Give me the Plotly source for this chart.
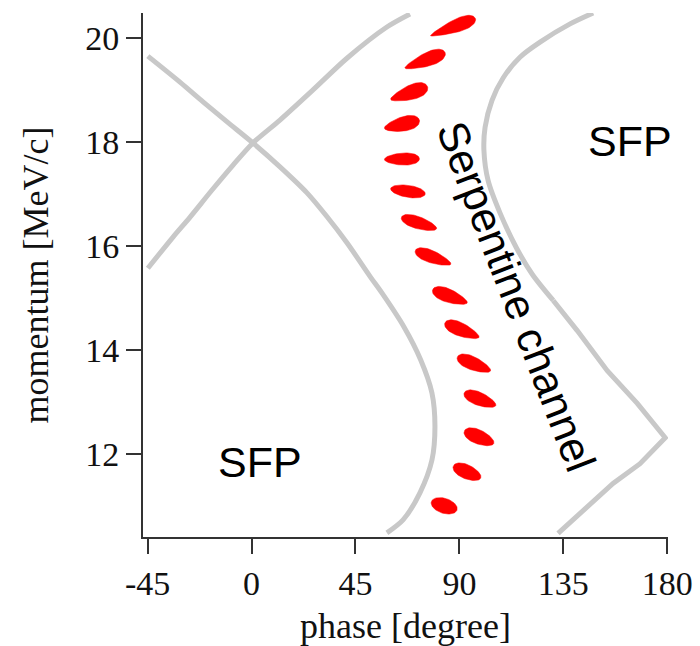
import numpy as np
import plotly.graph_objects as go

# ---- data ----
x_ticks = [-45, 0, 45, 90, 135, 180]
x_ticktext = ["-45", "0", "45", "90", "135", "180"]
y_ticks = [12, 14, 16, 18, 20]

# separatrix branch descending through the X-point and bending back
sepA_phase = [-44.9, -31.0, -21.0, -10.7, 0.6, 12.3, 24.0, 32.7, 41.3, 51.5, 56.5, 66.0,
              73.2, 78.1, 79.4, 78.1, 72.9, 65.6, 58.6]
sepA_mom = [19.66, 19.16, 18.78, 18.40, 17.99, 17.53, 17.03, 16.57, 16.07, 15.41, 15.10, 14.45,
            13.82, 13.18, 12.53, 11.89, 11.26, 10.74, 10.49]

# separatrix branch ascending through the X-point
sepB_phase = [-44.9, -34.0, -26.7, -17.2, -8.1, 0.6, 12.3, 26.6, 41.3, 58.6, 68.6]
sepB_mom = [15.58, 16.18, 16.56, 17.08, 17.56, 17.99, 18.43, 19.01, 19.62, 20.22, 20.47]

# right separatrix: upper smooth arc, then straight flanks round the corner at 180 degrees
sepC_phase = [147.9, 137.9, 124.9, 116.2, 108.9, 104.1, 101.1, 100.6, 102.4, 107.6, 114.6,
              121.6, 130.6]
sepC_mom = [20.49, 20.28, 19.93, 19.64, 19.24, 18.81, 18.29, 17.85, 17.27, 16.64, 15.98,
            15.46, 14.96]
sepD_phase = [130.6, 141.0, 154.0, 167.0, 179.1, 168.2, 156.5, 145.3, 132.7]
sepD_mom = [14.96, 14.38, 13.61, 12.98, 12.32, 11.82, 11.44, 10.98, 10.48]

# bunch centres
bunch_phase = [87.2, 75.1, 68.2, 65.1, 65.1, 67.7, 72.5, 78.6, 85.9, 91.1, 96.3, 98.9, 98.5, 93.3, 83.4]
bunch_mom = [20.22, 19.58, 18.95, 18.35, 17.68, 17.06, 16.45, 15.79, 15.04, 14.39, 13.74, 13.06,
             12.33, 11.66, 11.01]
# bunch shape: tilt (deg on screen), length and thickness (px), asymmetry
bunch_tilt = [21, 21, 19, 13, 1, -9, -18, -21, -21, -23, -23, -22, -23, -24, -18]
bunch_len = [48, 43, 39, 36, 35, 35, 37, 38, 37, 37, 36, 34, 32, 30, 27]
bunch_thick = [12, 13, 14, 14, 12, 12, 12, 12, 13, 13, 13, 13, 14, 14, 15]
bunch_skew = [0.55, 0.45, 0.4, 0.3, 0.2, 0.05, -0.2, -0.3, -0.3, -0.3, -0.25, -0.2, -0.15, -0.1, 0.0]

# ---- layout geometry ----
W, H = 700, 646
ml, mr, mt, mb = 143, 32, 13, 109
xr = [-47.0, 180.3]
yr = [10.41, 20.49]
sx = (W - ml - mr) / (xr[1] - xr[0])
sy = (H - mt - mb) / (yr[1] - yr[0])

bx, by = [], []
t = np.linspace(0, 2 * np.pi, 72)
for cx, cy, th, L, T, k in zip(bunch_phase, bunch_mom, bunch_tilt, bunch_len, bunch_thick, bunch_skew):
    a, b = L / 2, T / 2
    r = np.radians(th)
    u = a * np.cos(t)
    v = b * np.sin(t) * (1 + k * np.cos(t))
    dx = u * np.cos(r) - v * np.sin(r)
    dy = u * np.sin(r) + v * np.cos(r)
    bx += list(cx + dx / sx) + [None]
    by += list(cy + dy / sy) + [None]

grey = "#c8c8c8"
fig = go.Figure()
for xs, ys, shape in [(sepA_phase, sepA_mom, "spline"), (sepB_phase, sepB_mom, "spline"),
                      (sepC_phase, sepC_mom, "spline"), (sepD_phase, sepD_mom, "linear")]:
    fig.add_trace(go.Scatter(x=xs, y=ys, mode="lines",
                             line=dict(color=grey, width=5, shape=shape, smoothing=0.8),
                             hoverinfo="skip", showlegend=False))
fig.add_trace(go.Scatter(x=bx, y=by, mode="lines", fill="toself", fillcolor="#ff0000",
                         line=dict(color="#ff0000", width=0.5), hoverinfo="skip", showlegend=False))

serif = "Liberation Serif"
sans = "Liberation Sans"
axis_common = dict(showline=True, linecolor="#333333", linewidth=2, ticks="outside", ticklen=15,
                   tickwidth=2, tickcolor="#333333", showgrid=False, zeroline=False, automargin=False,
                   tickfont=dict(family=serif, size=34, color="#111111"))
fig.update_layout(
    width=W, height=H, margin=dict(l=ml, r=mr, t=mt, b=mb, autoexpand=False),
    paper_bgcolor="white", plot_bgcolor="white",
    xaxis=dict(range=xr, tickvals=x_ticks, ticktext=x_ticktext,
               title=dict(text="phase [degree]", font=dict(family=serif, size=36, color="#111111"),
                          standoff=16), **axis_common),
    yaxis=dict(range=yr, tickvals=y_ticks,
               title=dict(text="momentum [MeV/c]", font=dict(family=serif, size=36, color="#111111"),
                          standoff=26), **axis_common),
    annotations=[
        dict(x=3.6, y=11.85, text="SFP", showarrow=False, font=dict(family=sans, size=43, color="black")),
        dict(x=163.7, y=18.03, text="SFP", showarrow=False, font=dict(family=sans, size=43, color="black")),
        dict(x=114.5, y=15.04, text="Serpentine channel", showarrow=False, textangle=69,
             font=dict(family=sans, size=43, color="black")),
    ],
)
fig.write_html("out.html")
